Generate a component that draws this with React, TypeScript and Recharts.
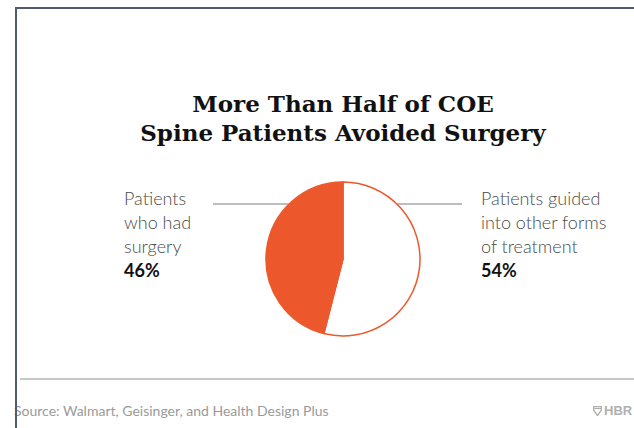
import { PieChart, Pie, Cell } from 'recharts';

// Chart values
const sliceNames = ['Patients guided into other forms of treatment', 'Patients who had surgery'];
const sliceValues = [54, 46];
const sliceFills = ['#ffffff', '#ec582c'];

const titleLines = ['More Than Half of COE', 'Spine Patients Avoided Surgery'];
const leftLabelLines = ['Patients', 'who had', 'surgery'];
const rightLabelLines = ['Patients guided', 'into other forms', 'of treatment'];
const leftPct = '46%';
const rightPct = '54%';
const sourceText = 'Source: Walmart, Geisinger, and Health Design Plus';

const ORANGE = '#ec582c';
const W = 634;
const H = 428;

const pieData = sliceNames.map((name, i) => ({ name, value: sliceValues[i] }));

const labelStyle: React.CSSProperties = {
  position: 'absolute',
  top: 186,
  fontFamily: 'Lato, "Open Sans", sans-serif',
  fontWeight: 300,
  fontSize: 18,
  lineHeight: '24px',
  color: '#4a4a4a',
  whiteSpace: 'nowrap',
};

const Label = ({ left, lines, pct }: { left: number; lines: string[]; pct: string }) => (
  <div style={{ ...labelStyle, left }}>
    {lines.map((l) => (
      <div key={l}>{l}</div>
    ))}
    <div style={{ fontWeight: 700, color: '#111' }}>{pct}</div>
  </div>
);

const App = () => {
  return (
    <div
      style={{
        position: 'absolute',
        left: 0,
        top: 0,
        width: W,
        height: H,
        background: '#fff',
        overflow: 'hidden',
      }}
    >
      {/* frame edges */}
      <div style={{ position: 'absolute', left: 15, top: 7, width: W - 15, height: 2, background: '#4d5c6e' }} />

      {/* connector line behind the pie */}
      <div style={{ position: 'absolute', left: 213, top: 203, width: 249, height: 1.5, background: '#bdbdbd' }} />

      <div style={{ position: 'absolute', left: 0, top: 0 }}>
        <PieChart width={W} height={H} margin={{ top: 0, right: 0, bottom: 0, left: 0 }}>
          <Pie
            data={pieData}
            dataKey="value"
            cx={343}
            cy={259}
            outerRadius={77}
            startAngle={90}
            endAngle={-270}
            stroke={ORANGE}
            strokeWidth={1.5}
            isAnimationActive={false}
          >
            {pieData.map((entry, index) => (
              <Cell key={`cell-${index}`} fill={sliceFills[index]} />
            ))}
          </Pie>
        </PieChart>
      </div>

      {/* title */}
      <div
        style={{
          position: 'absolute',
          left: 0,
          width: 686,
          top: 89,
          textAlign: 'center',
          fontFamily: '"DejaVu Serif", serif',
          fontWeight: 700,
          fontSize: 23,
          lineHeight: '29px',
          color: '#111',
        }}
      >
        {titleLines.map((t) => (
          <div key={t}>{t}</div>
        ))}
      </div>

      <Label left={124} lines={leftLabelLines} pct={leftPct} />
      <Label left={481} lines={rightLabelLines} pct={rightPct} />

      {/* footer */}
      <div style={{ position: 'absolute', left: 20, top: 378, width: W - 20, height: 1.5, background: '#c8c8c8' }} />
      <div
        style={{
          position: 'absolute',
          left: 14,
          top: 402,
          fontFamily: 'Lato, sans-serif',
          fontSize: 14,
          color: '#9a9a9a',
          whiteSpace: 'nowrap',
        }}
      >
        {sourceText}
      </div>
      <div
        style={{
          position: 'absolute',
          left: 593,
          top: 403,
          fontFamily: '"Liberation Sans", sans-serif',
          fontWeight: 700,
          fontSize: 13,
          color: '#b0b0b0',
          whiteSpace: 'nowrap',
          display: 'flex',
          alignItems: 'center',
          gap: 2,
        }}
      >
        <svg width={9} height={10} viewBox="0 0 9 10">
          <path d="M0.5 0.5 H8.5 V4 L4.5 9.5 L0.5 4 Z" fill="none" stroke="#b0b0b0" strokeWidth={1.4} />
          <path d="M0.5 2.5 H8.5" stroke="#b0b0b0" strokeWidth={1.2} />
        </svg>
        <span>HBR</span>
      </div>
      {/* left frame edge, drawn last so it clips the footer text like the reference */}
      <div style={{ position: 'absolute', left: 15, top: 7, width: 2, height: H - 7, background: '#4d5c6e' }} />
    </div>
  );
};

export default App;
